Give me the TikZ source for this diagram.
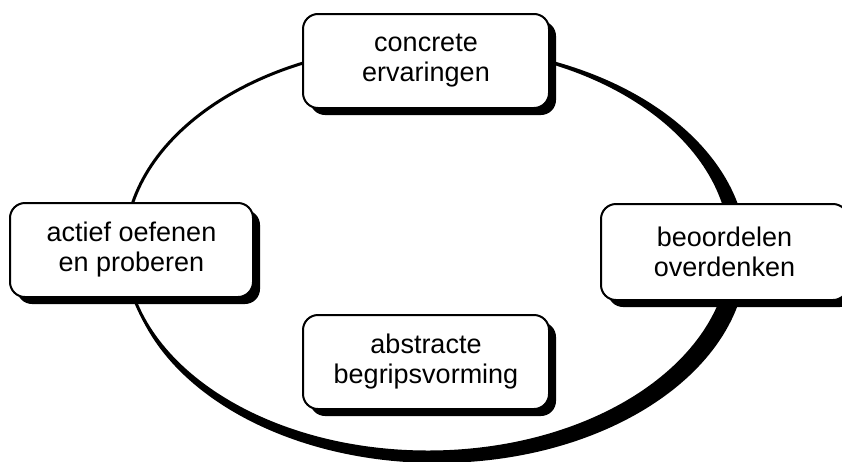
\documentclass[tikz,border=0pt]{standalone}
\usepackage{fontspec}
\setmainfont{Liberation Sans}
\usetikzlibrary{shadows}
\begin{document}
\begin{tikzpicture}[x=1pt,y=-1pt,
  stage/.style={draw=black, line width=2pt, fill=white, rounded corners=15pt,
    minimum width=246pt, minimum height=94pt, inner sep=0pt, align=center,
    font=\fontsize{27}{30}\selectfont,
    drop shadow={shadow xshift=7pt, shadow yshift=-7pt, opacity=1, fill=black}},
  ringline/.style={draw=black, line width=3pt}]
\useasboundingbox (0,0) rectangle (842,461);
\clip (0,0) rectangle (842,461);
% cycle ring: shadow ellipse, white inside, thin outline
\fill[black] (437,254.5) ellipse [x radius=310, y radius=208.5];
\fill[white] (428,248.5) ellipse [x radius=303, y radius=203.5];
\path[ringline] (428,248.5) ellipse [x radius=303, y radius=203.5];
\node[stage] (concrete) at (426,61) {concrete\\ervaringen};
\node[stage, minimum width=247pt, minimum height=96pt] (beoordelen) at (724.5,252) {beoordelen\\overdenken};
\node[stage, minimum width=243pt] (actief) at (131.5,250) {actief oefenen\\en proberen};
\node[stage] (abstracte) at (426,362) {abstracte\\begripsvorming};
\end{tikzpicture}
\end{document}
